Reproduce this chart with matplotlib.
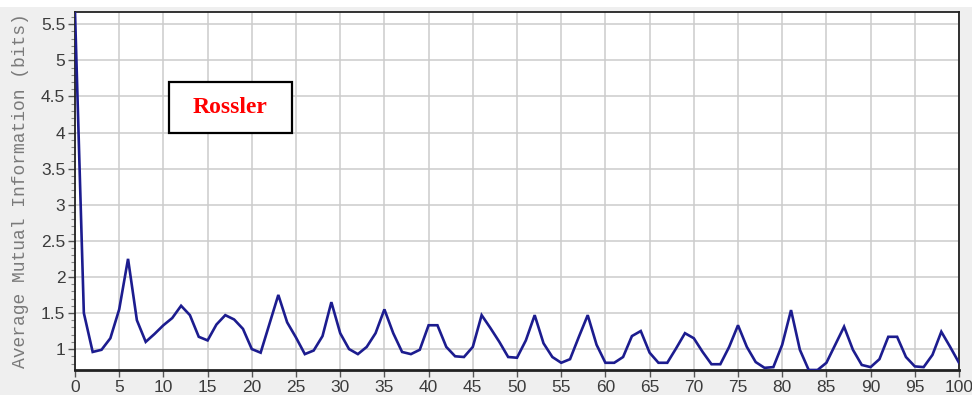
import numpy as np
import matplotlib
matplotlib.use("Agg")
import matplotlib.pyplot as plt
from matplotlib.patches import Rectangle
from matplotlib.ticker import MultipleLocator

# Average mutual information vs. lag for the Rossler series
lag = np.arange(0, 101)
ami = [
    5.67, 1.50, 0.96, 0.99, 1.15, 1.55, 2.25, 1.40, 1.10, 1.21,
    1.33, 1.43, 1.60, 1.47, 1.17, 1.12, 1.34, 1.47, 1.41, 1.28,
    1.00, 0.95, 1.35, 1.75, 1.37, 1.16, 0.93, 0.98, 1.18, 1.65,
    1.22, 1.00, 0.93, 1.03, 1.22, 1.55, 1.22, 0.96, 0.93, 0.99,
    1.33, 1.33, 1.03, 0.90, 0.89, 1.03, 1.47, 1.29, 1.10, 0.89,
    0.88, 1.12, 1.47, 1.08, 0.89, 0.81, 0.86, 1.17, 1.47, 1.06,
    0.81, 0.81, 0.89, 1.18, 1.25, 0.95, 0.81, 0.81, 1.01, 1.22,
    1.15, 0.96, 0.79, 0.79, 1.03, 1.33, 1.03, 0.82, 0.74, 0.75,
    1.06, 1.54, 0.99, 0.71, 0.71, 0.81, 1.06, 1.31, 0.99, 0.78,
    0.75, 0.86, 1.17, 1.17, 0.89, 0.76, 0.75, 0.92, 1.24, 1.03,
    0.81,
]
x_ticks = list(range(0, 101, 5))
y_ticks = [1, 1.5, 2, 2.5, 3, 3.5, 4, 4.5, 5, 5.5]
y_ticklabels = ["1", "1.5", "2", "2.5", "3", "3.5", "4", "4.5", "5", "5.5"]
title_text = "Rossler"
y_label = "Average Mutual Information (bits)"

W, H = 972, 395
fig = plt.figure(figsize=(W / 100, H / 100), dpi=100, facecolor="#efefef")
# thin white band along the top edge
fig.patches.append(Rectangle((0, 1 - 7 / H), 1, 7 / H, transform=fig.transFigure,
                             facecolor="white", edgecolor="none", zorder=0))
ax = fig.add_axes([75 / W, 25 / H, 884 / W, 358 / H])
ax.set_facecolor("white")

ax.plot(lag, ami, color="#1c1c8f", lw=1.9, zorder=3, solid_joinstyle="miter")

ax.set_xlim(0, 100)
ax.set_ylim(min(ami), max(ami))
ax.set_xticks(x_ticks)
ax.set_xticklabels([str(v) for v in x_ticks])
ax.set_yticks(y_ticks)
ax.set_yticklabels(y_ticklabels)
ax.yaxis.set_minor_locator(MultipleLocator(0.1))

ax.grid(True, which="major", color="#cccccc", lw=1.1, zorder=0)
ax.set_axisbelow(True)

for lab in ax.get_xticklabels() + ax.get_yticklabels():
    lab.set_fontfamily("Liberation Sans")
    lab.set_fontsize(12.5)
    lab.set_color("#3c3c3c")
ax.tick_params(axis="both", which="major", direction="out", length=5,
               width=1.0, color="#555555", pad=2)
ax.tick_params(axis="y", which="minor", direction="out", length=3,
               width=0.8, color="#888888")

for side in ["left", "bottom", "top", "right"]:
    ax.spines[side].set_color("#222222")
    ax.spines[side].set_linewidth(1.3)
ax.spines["bottom"].set_linewidth(2.0)

ax.set_ylabel(y_label, family="Liberation Mono", fontsize=13,
              color="#7a7a7a")
ax.yaxis.set_label_coords(-0.052, 0.5)

# boxed series name
ax.add_patch(Rectangle((0.106, 0.662), 0.1395, 0.1425, transform=ax.transAxes,
                       facecolor="white", edgecolor="black", lw=1.6, zorder=5))
ax.text(0.1755, 0.734, title_text, transform=ax.transAxes, ha="center",
        va="center", family="Liberation Serif", fontweight="bold",
        fontsize=17, color="#ff0000", zorder=6)

fig.savefig("out.png", dpi=100, facecolor=fig.get_facecolor())
